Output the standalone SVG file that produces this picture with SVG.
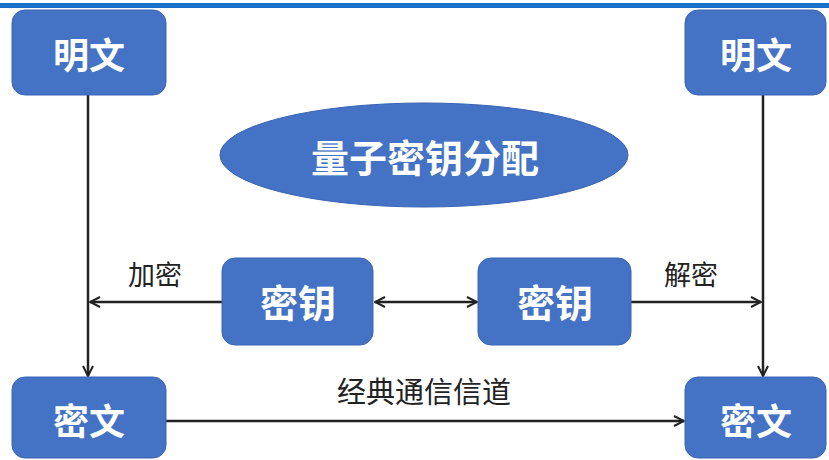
<svg xmlns="http://www.w3.org/2000/svg" width="829" height="460" viewBox="0 0 829 460">
<style>
.box{fill:#4472c4;stroke:#3a64b4;stroke-width:1}
.nt{fill:#ffffff;font-family:"Noto Sans CJK SC","Noto Sans CJK JP",sans-serif;font-weight:bold;text-anchor:middle;dominant-baseline:central}
.lt{fill:#222222;font-family:"Noto Sans CJK SC","Noto Sans CJK JP",sans-serif;text-anchor:middle;dominant-baseline:central}
.ln{stroke:#222222;stroke-width:2.5;fill:none}
</style>
<defs>
<marker id="ah" viewBox="0 0 12 12" refX="11" refY="6" markerWidth="12" markerHeight="12" markerUnits="userSpaceOnUse" orient="auto-start-reverse">
<path d="M1,1 L11,6 L1,11" fill="none" stroke="#222222" stroke-width="2"/>
</marker>
</defs>
<rect x="0" y="0" width="829" height="460" fill="#ffffff"/>
<rect x="0" y="3" width="829" height="5" fill="#1a6fc8"/>
<g id="connectors">
<line class="ln" x1="88" y1="95" x2="88" y2="376" marker-end="url(#ah)"/>
<line class="ln" x1="763" y1="95" x2="763" y2="376" marker-end="url(#ah)"/>
<line class="ln" x1="222" y1="302" x2="90" y2="302" marker-end="url(#ah)"/>
<line class="ln" x1="375" y1="302" x2="477" y2="302" marker-start="url(#ah)" marker-end="url(#ah)"/>
<line class="ln" x1="631" y1="302" x2="761" y2="302" marker-end="url(#ah)"/>
<line class="ln" x1="165" y1="421" x2="684" y2="421" marker-end="url(#ah)"/>
<text class="lt" x="155" y="273" font-size="27">加密</text>
<text class="lt" x="691" y="273" font-size="27">解密</text>
<text class="lt" x="424" y="390" font-size="29">经典通信信道</text>
</g>
<g id="plain-left">
<rect class="box" x="12" y="10" width="154" height="85" rx="13"/>
<text class="nt" x="89" y="53" font-size="36">明文</text>
</g>
<g id="plain-right">
<rect class="box" x="685" y="10" width="141" height="85" rx="13"/>
<text class="nt" x="756" y="53" font-size="36">明文</text>
</g>
<g id="qkd">
<ellipse class="box" cx="424" cy="155" rx="204" ry="52"/>
<text class="nt" x="425" y="155" font-size="38">量子密钥分配</text>
</g>
<g id="key-left">
<rect class="box" x="222" y="258" width="151" height="87" rx="13"/>
<text class="nt" x="298" y="300" font-size="38">密钥</text>
</g>
<g id="key-right">
<rect class="box" x="478" y="258" width="153" height="87" rx="13"/>
<text class="nt" x="555" y="300" font-size="38">密钥</text>
</g>
<g id="cipher-left">
<rect class="box" x="12" y="377" width="154" height="81" rx="13"/>
<text class="nt" x="89" y="419" font-size="36">密文</text>
</g>
<g id="cipher-right">
<rect class="box" x="685" y="377" width="141" height="81" rx="13"/>
<text class="nt" x="756" y="419" font-size="36">密文</text>
</g>
</svg>
